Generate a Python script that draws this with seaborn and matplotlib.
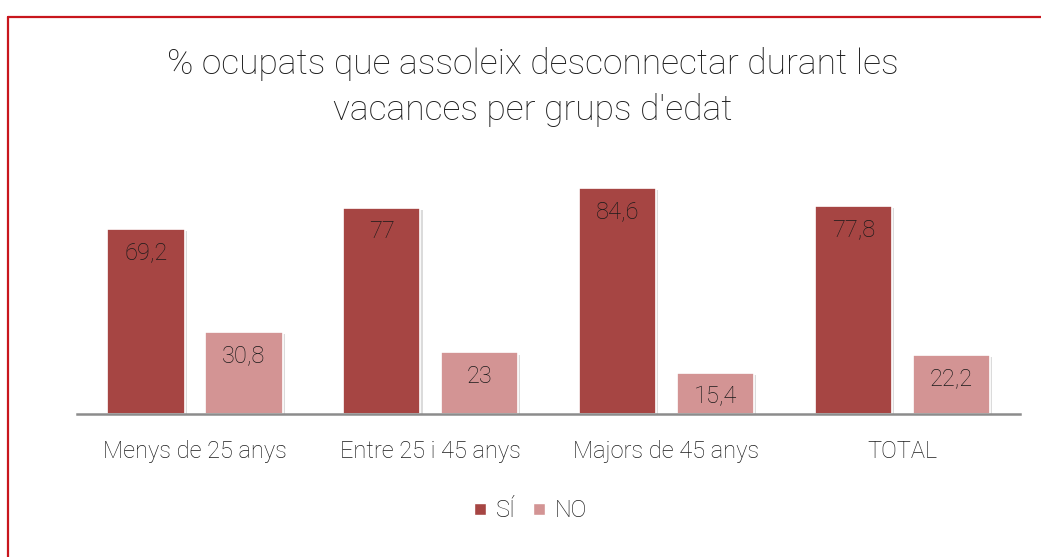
import matplotlib
matplotlib.use("Agg")
import matplotlib.pyplot as plt
import matplotlib.patheffects as pe
from matplotlib.lines import Line2D
import seaborn as sns
import pandas as pd

# Survey shares (%) by age group
groups = ["Menys de 25 anys", "Entre 25 i 45 anys", "Majors de 45 anys", "TOTAL"]
answers = ["SÍ", "NO"]
si_values = [69.2, 77.0, 84.6, 77.8]
no_values = [30.8, 23.0, 15.4, 22.2]
title = "% ocupats que assoleix desconnectar durant les\nvacances per grups d'edat"

colors = {"SÍ": "#A64543", "NO": "#D39494"}

df = pd.DataFrame({
    "grup": groups * 2,
    "resposta": ["SÍ"] * len(groups) + ["NO"] * len(groups),
    "valor": si_values + no_values,
})

sns.set_theme(style="white")
plt.rcParams["font.family"] = ["Roboto", "DejaVu Sans"]

fig = plt.figure(figsize=(10.41, 5.57), dpi=100)
ax = fig.add_axes([0.074, 0.2567, 0.906, 0.4325])

sns.barplot(data=df, x="grup", y="valor", hue="resposta", hue_order=answers,
            palette=colors, width=0.83, gap=0.21, ax=ax, legend=False,
            edgecolor="white", linewidth=1.2, saturation=1)

for patch in ax.patches:
    patch.set_path_effects([pe.SimplePatchShadow(offset=(1.5, -1.5), shadow_rgbFace="#999999", alpha=0.35),
                            pe.Normal()])

# Value labels just inside the top of each bar
for cont, vals in zip(ax.containers, [si_values, no_values]):
    for bar, v in zip(cont, vals):
        txt = f"{v:g}".replace(".", ",")
        ax.annotate(txt, (bar.get_x() + bar.get_width() / 2, v),
                    xytext=(0, -9), textcoords="offset points",
                    ha="center", va="top", fontsize=17, color="#1a1a1a",
                    fontweight="light")

ax.set_ylim(0, 90)
ax.set_xlim(-0.5, 3.5)
ax.set_xlabel("")
ax.set_ylabel("")
ax.set_yticks([])
for side in ["top", "right", "left"]:
    ax.spines[side].set_visible(False)
ax.spines["bottom"].set_color("#8C8C8C")
ax.spines["bottom"].set_linewidth(1.8)
ax.tick_params(axis="x", length=0, pad=19, labelsize=17, labelcolor="#1a1a1a")
for lbl in ax.get_xticklabels():
    lbl.set_fontweight("light")

fig.text(0.512, 0.844, title, ha="center", va="center", fontsize=25.5,
         fontweight="light", color="#1a1a1a", linespacing=1.45)

handles = [Line2D([], [], marker="s", linestyle="", markersize=9,
                  markerfacecolor=colors[a], markeredgecolor="white") for a in answers]
leg = fig.legend(handles, answers, loc="center", bbox_to_anchor=(0.507, 0.083),
                 ncol=2, frameon=False, fontsize=17, handletextpad=0.15,
                 columnspacing=0.5, handlelength=1.0)
for t in leg.get_texts():
    t.set_color("#1a1a1a")
    t.set_fontweight("light")

# Red frame along top and left edges
frame = "#C8161D"
fig.add_artist(Line2D([0.0077, 1.0], [0.9695, 0.9695], transform=fig.transFigure,
                      color=frame, linewidth=1.6))
fig.add_artist(Line2D([0.0077, 0.0077], [0.9695, 0.0], transform=fig.transFigure,
                      color=frame, linewidth=1.6))

fig.savefig("out.png", dpi=100, facecolor="white")
